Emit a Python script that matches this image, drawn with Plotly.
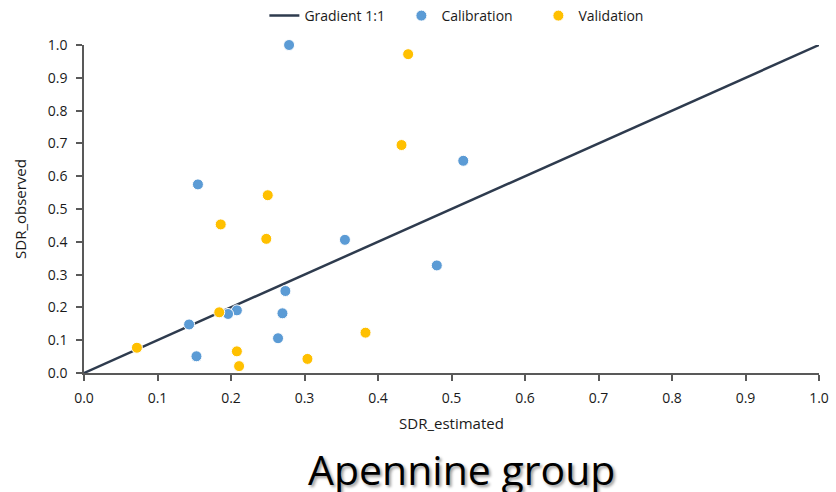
import plotly.graph_objects as go

# Calibration points (SDR_estimated, SDR_observed)
cal_x = [0.279, 0.155, 0.355, 0.516, 0.480, 0.274, 0.208, 0.196, 0.270, 0.143, 0.264, 0.153]
cal_y = [1.000, 0.575, 0.406, 0.647, 0.328, 0.250, 0.191, 0.180, 0.182, 0.148, 0.106, 0.051]

# Validation points
val_x = [0.441, 0.432, 0.250, 0.186, 0.248, 0.184, 0.072, 0.383, 0.208, 0.211, 0.304]
val_y = [0.972, 0.695, 0.542, 0.453, 0.409, 0.185, 0.077, 0.123, 0.066, 0.021, 0.043]

# 1:1 line
line_x = [0.0, 1.0]
line_y = [0.0, 1.0]

tick_vals = [0.0, 0.1, 0.2, 0.3, 0.4, 0.5, 0.6, 0.7, 0.8, 0.9, 1.0]
tick_text = ["0.0", "0.1", "0.2", "0.3", "0.4", "0.5", "0.6", "0.7", "0.8", "0.9", "1.0"]

FONT = "Open Sans"
TXT = "#1a1a1a"

fig = go.Figure()
fig.add_trace(go.Scatter(x=line_x, y=line_y, mode="lines", name="Gradient 1:1",
                         line=dict(color="#2E3B4E", width=2.5), cliponaxis=False))
fig.add_trace(go.Scatter(x=cal_x, y=cal_y, mode="markers", name="Calibration",
                         marker=dict(color="#5B9BD5", size=11, line=dict(color="white", width=1)),
                         cliponaxis=False))
fig.add_trace(go.Scatter(x=val_x, y=val_y, mode="markers", name="Validation",
                         marker=dict(color="#FFC000", size=11, line=dict(color="white", width=1)),
                         cliponaxis=False))

axis_common = dict(
    range=[0, 1], tickvals=tick_vals, ticktext=tick_text, automargin=False,
    showgrid=False, zeroline=False, showline=True, linecolor="#595959", linewidth=1.5,
    ticks="outside", ticklen=6, tickcolor="#595959", tickwidth=1.5,
    tickfont=dict(family=FONT, size=14, color=TXT),
)

fig.update_layout(
    width=836, height=492,
    paper_bgcolor="white", plot_bgcolor="white",
    margin=dict(l=84, r=17, t=45, b=119, autoexpand=False),
    xaxis=dict(**axis_common, ticklabelstandoff=5,
               title=dict(text="SDR_estimated", font=dict(family=FONT, size=15, color=TXT), standoff=13)),
    yaxis=dict(**axis_common, ticklabelstandoff=6,
               title=dict(text="SDR_observed", font=dict(family=FONT, size=15, color=TXT), standoff=18)),
    legend=dict(orientation="h", x=0.525, xanchor="center", y=1.0, yanchor="top",
                yref="container", font=dict(family=FONT, size=14, color=TXT),
                entrywidth=92, entrywidthmode="pixels",
                bgcolor="rgba(0,0,0,0)"),
    showlegend=True,
)

fig.add_annotation(text="Apennine group", xref="paper", yref="paper",
                   x=0.514, y=-0.293, xanchor="center", yanchor="middle", showarrow=False,
                   font=dict(family=FONT, size=41, color="black", shadow="2px 2px 3px #9a9a9a"))

fig.write_html("out.html", config={"displayModeBar": False},
               post_script="document.body.style.margin='0';document.body.style.overflow='hidden';")
